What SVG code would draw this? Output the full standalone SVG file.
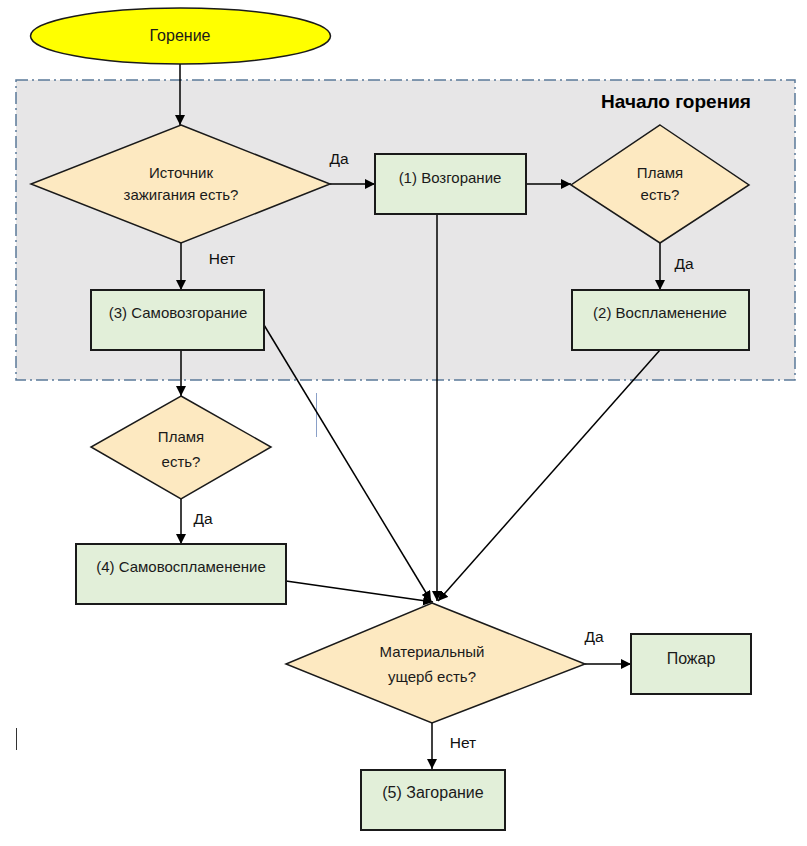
<svg xmlns="http://www.w3.org/2000/svg" width="807" height="846" viewBox="0 0 807 846">
<defs>
<marker id="ah" viewBox="0 0 10 10" refX="10" refY="5" markerWidth="10" markerHeight="10" markerUnits="userSpaceOnUse" orient="auto">
<path d="M0,0 L10,5 L0,10 z" fill="#000"/>
</marker>
</defs>
<style>
text{font-family:"Liberation Sans",Arial,sans-serif;font-size:15px;fill:#1a1a1a;text-anchor:middle}
.box{fill:#e2efd9;stroke:#1a1a1a;stroke-width:2}
.dia{fill:#fde9c1;stroke:#1a1a1a;stroke-width:1.5}
.con{stroke:#000;stroke-width:1.5;fill:none;marker-end:url(#ah)}
.lbl{font-size:15.5px;fill:#111}
</style>
<rect width="807" height="846" fill="#fff"/>
<g id="group">
<rect x="16" y="80" width="779" height="300" fill="#e7e6e7" stroke="#5b7a99" stroke-width="1.5" stroke-dasharray="12,4,2,4"/>
<text x="676" y="108" style="font-weight:bold;font-size:19px;fill:#000">Начало горения</text>
</g>
<g id="artifacts" stroke="#8aa0c8" stroke-width="1">
<line x1="316.5" y1="393" x2="316.5" y2="437"/>
<line x1="16.5" y1="728" x2="16.5" y2="750" stroke="#333"/>
</g>
<g id="connectors">
<line class="con" x1="180" y1="63" x2="180" y2="125"/>
<line class="con" x1="330" y1="184" x2="375" y2="184"/>
<line class="con" x1="526" y1="184" x2="571" y2="184"/>
<line class="con" x1="660" y1="243" x2="660" y2="290"/>
<line class="con" x1="181" y1="243" x2="181" y2="290"/>
<line class="con" x1="181" y1="350" x2="181" y2="396"/>
<line class="con" x1="181" y1="499" x2="181" y2="544"/>
<line class="con" x1="264" y1="325" x2="431" y2="601"/>
<line class="con" x1="437" y1="214" x2="437" y2="601"/>
<line class="con" x1="660" y1="350" x2="438" y2="601"/>
<line class="con" x1="286" y1="581" x2="433" y2="602"/>
<line class="con" x1="585" y1="664" x2="631" y2="664"/>
<line class="con" x1="432" y1="723" x2="432" y2="769"/>
<text class="lbl" x="339" y="164">Да</text>
<text class="lbl" x="222" y="264">Нет</text>
<text class="lbl" x="684" y="269">Да</text>
<text class="lbl" x="203" y="524">Да</text>
<text class="lbl" x="594" y="642">Да</text>
<text class="lbl" x="463" y="748">Нет</text>
</g>
<g id="start">
<ellipse cx="180.5" cy="36" rx="150" ry="28" fill="#ffff00" stroke="#1a1a1a" stroke-width="1.5"/>
<text x="180" y="41" style="font-size:16px">Горение</text>
</g>
<g id="d1">
<polygon class="dia" points="181,125 330,184 181,243 31,184"/>
<text x="181" y="178">Источник</text>
<text x="181" y="200">зажигания есть?</text>
</g>
<g id="n1">
<rect class="box" x="375" y="154" width="151" height="60"/>
<text x="450" y="183">(1) Возгорание</text>
</g>
<g id="d2">
<polygon class="dia" points="660,125 749,185 660,243 571,185"/>
<text x="660" y="178">Пламя</text>
<text x="660" y="200">есть?</text>
</g>
<g id="n2">
<rect class="box" x="572" y="290" width="177" height="60"/>
<text x="660" y="318">(2) Воспламенение</text>
</g>
<g id="n3">
<rect class="box" x="91" y="290" width="173" height="60"/>
<text x="178" y="318">(3) Самовозгорание</text>
</g>
<g id="d3">
<polygon class="dia" points="181,396 271,447 181,499 91,447"/>
<text x="181" y="442">Пламя</text>
<text x="181" y="467">есть?</text>
</g>
<g id="n4">
<rect class="box" x="76" y="544" width="210" height="60"/>
<text x="181" y="572">(4) Самовоспламенение</text>
</g>
<g id="d4">
<polygon class="dia" points="432,603 585,664 432,723 286,664"/>
<text x="432" y="657">Материальный</text>
<text x="432" y="682">ущерб есть?</text>
</g>
<g id="fire">
<rect class="box" x="631" y="634" width="120" height="60"/>
<text x="691" y="664" style="font-size:16px">Пожар</text>
</g>
<g id="n5">
<rect class="box" x="361" y="770" width="144" height="60"/>
<text x="433" y="798" style="font-size:16px">(5) Загорание</text>
</g>
</svg>
